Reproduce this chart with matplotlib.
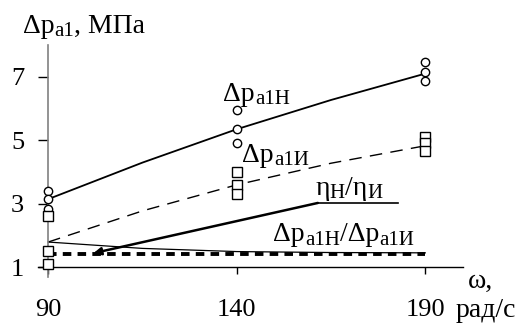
import matplotlib
matplotlib.use("Agg")
import matplotlib.pyplot as plt
import numpy as np

plt.rcParams['font.family'] = ['Liberation Serif', 'DejaVu Serif']

# omega, rad/s
w_ticks = [90, 140, 190]
y_ticks = [1, 3, 5, 7]

# measured points (circles: natural, squares: simulated)
circ_x = [90, 90, 90, 140, 140, 140, 190, 190, 190]
circ_y = [3.42, 3.15, 2.83, 5.94, 5.35, 4.93, 7.45, 7.16, 6.86]
sq_x = [90, 90, 90, 140, 140, 140, 190, 190, 190]
sq_y = [2.62, 1.53, 1.11, 3.99, 3.61, 3.31, 5.12, 4.91, 4.68]

# fitted curves
w_fit = [90, 115, 140, 165, 190]
dp_n = [3.15, 4.30, 5.35, 6.27, 7.10]
dp_i = [1.80, 2.78, 3.60, 4.28, 4.83]
eta_ratio = [1.80, 1.60, 1.50, 1.47, 1.46]
dp_ratio = [1.42, 1.42, 1.42, 1.42, 1.42]

fig = plt.figure(figsize=(5.26, 3.25), dpi=100)
ax = fig.add_axes([38 / 526, 48 / 325, 425 / 526, 232 / 325])
ax.set_xlim(87.3, 200)
ax.set_ylim(0.7, 8.0)

ax.plot(w_fit, dp_n, color='black', lw=1.3)
ax.plot(w_fit, dp_i, color='black', lw=1.0, ls=(0, (9, 6)))
ax.plot(w_fit, eta_ratio, color='black', lw=0.9)
ax.plot(w_fit, dp_ratio, color='black', lw=2.8, ls=(0, (2.2, 1.6)))

ax.plot(circ_x, circ_y, 'o', ms=6, mfc='white', mec='black', mew=1.0, zorder=3)
ax.plot(sq_x, sq_y, 's', ms=6.5, mfc='white', mec='black', mew=1.0, zorder=3)

# arrow from the eta label to the ratio line
ax.annotate('', xy=(102.0, 1.45), xytext=(161.5, 3.03),
            arrowprops=dict(arrowstyle='-|>', color='black', lw=1.8,
                            mutation_scale=11, shrinkA=0, shrinkB=0))
ax.plot([161.5, 182.8], [3.03, 3.03], color='black', lw=1.2)

fs = 20
fs_sub = 15
renderer = fig.canvas.get_renderer()


def sub_label(x, y, parts, xycoords='data'):
    # draw text pieces one after another, subscripts smaller and lowered
    dx = 0.0
    for s, size, dy in parts:
        t = ax.annotate(s, (x, y), xycoords=xycoords, xytext=(dx, dy),
                        textcoords='offset points', fontsize=size,
                        ha='left', va='baseline', annotation_clip=False)
        dx += t.get_window_extent(renderer).width * 72 / fig.dpi


sub_label(136.4, 6.25, [('Δp', fs, 0), ('a1Н', fs_sub, -2.5)])
sub_label(141.5, 4.32, [('Δp', fs, 0), ('a1И', fs_sub, -2.5)])
sub_label(160.8, 3.28, [('η', fs, 0), ('Н', fs_sub, -2.5), ('/η', fs, 0), ('И', fs_sub, -2.5)])
sub_label(149.7, 1.83, [('Δp', fs, 0), ('a1Н', fs_sub, -2.5), ('/Δp', fs, 0), ('a1И', fs_sub, -2.5)])
sub_label(23 / 526, 1 - 33 / 325, [('Δp', fs, 0), ('a1', fs_sub, -2.5), (', МПа', fs, 0)],
          xycoords='figure fraction')

ax.spines['top'].set_visible(False)
ax.spines['right'].set_visible(False)
ax.spines['left'].set_position(('data', 90))
ax.spines['bottom'].set_position(('data', 1))
ax.spines['left'].set_color('#808080')
ax.spines['left'].set_linewidth(1.2)
ax.spines['bottom'].set_linewidth(1.0)

ax.set_xticks(w_ticks)
ax.set_yticks(y_ticks)
ax.tick_params(axis='y', direction='out', length=7.2, width=1, labelsize=19, pad=10)
ax.tick_params(axis='x', direction='out', length=5, width=1, labelsize=19, pad=18)

fig.text(468 / 526, 1 - 288 / 325, 'ω,', fontsize=fs, ha='left', va='baseline')
fig.text(456 / 526, 1 - 317 / 325, 'рад/с', fontsize=fs, ha='left', va='baseline')

fig.savefig('out.png', dpi=100)
